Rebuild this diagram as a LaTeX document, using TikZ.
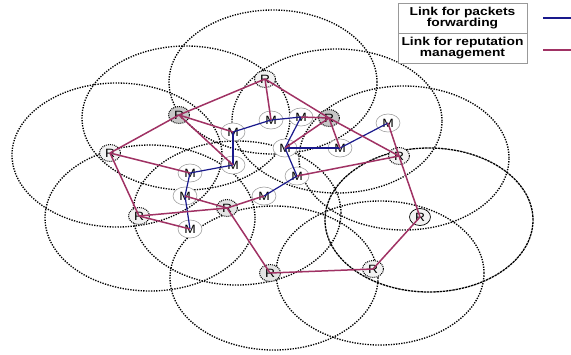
\documentclass[tikz,border=0pt]{standalone}
\usepackage{fontspec}
\usetikzlibrary{shapes.geometric}
\newfontfamily\labelfont[FakeStretch=1.15]{Liberation Sans}
\newfontfamily\legendfont[FakeStretch=1.2]{Liberation Sans}
\definecolor{fwdblue}{RGB}{25,25,140}
\definecolor{repred}{RGB}{160,50,100}

\begin{document}
\begin{tikzpicture}[x=1pt,y=-1pt,
  zone/.style={draw=black, line width=1.35pt, dash pattern=on 1.3pt off 1.3pt},
  zonedense/.style={draw=black, line width=1.3pt, dash pattern=on 2.4pt off 0.8pt},
  mnode/.style={ellipse, draw=gray!75, line width=0.6pt, fill=white,
    minimum width=24pt, minimum height=18pt, inner sep=0pt,
    font=\labelfont\fontsize{12}{12}\selectfont},
  rnode/.style={ellipse, draw=black, line width=1pt, dash pattern=on 1pt off 1pt,
    fill=gray!10, minimum width=21pt, minimum height=17pt, inner sep=0pt,
    font=\labelfont\fontsize{12}{12}\selectfont},
  rdark/.style={rnode, fill=gray!45},
  rmid/.style={rnode, fill=gray!22},
  rsolid/.style={rnode, solid, line width=0.7pt},
  fwd/.style={draw=fwdblue, line width=1.2pt},
  rep/.style={draw=repred, line width=1.5pt},
  legcell/.style={draw=gray!80, line width=0.6pt, minimum width=129pt, minimum height=30pt,
    inner sep=0pt, align=center, font=\legendfont\bfseries\fontsize{11.5}{11.5}\selectfont}
]
\useasboundingbox (0,0) rectangle (571,354);

% coverage zones of the reputation nodes
\draw[zone] (273,82)  ellipse [x radius=104pt, y radius=72pt];
\draw[zone] (186,118) ellipse [x radius=104pt, y radius=72pt];
\draw[zone] (117,155) ellipse [x radius=105pt, y radius=72pt];
\draw[zone] (337,121) ellipse [x radius=105pt, y radius=72pt];
\draw[zone] (404,158) ellipse [x radius=105pt, y radius=72pt];
\draw[zone] (150,218) ellipse [x radius=105pt, y radius=73pt];
\draw[zone] (237,213) ellipse [x radius=104pt, y radius=72pt];
\draw[zonedense] (429,220) ellipse [x radius=104pt, y radius=72pt];
\draw[zone] (274,278) ellipse [x radius=104pt, y radius=72pt];
\draw[zone] (380,273) ellipse [x radius=104pt, y radius=72pt];

% reputation nodes
\node[rnode] (R1)  at (265,79)  {R};
\node[rdark] (R2)  at (179,115) {R};
\node[rnode] (R3)  at (110,153) {R};
\node[rdark] (R4)  at (329,118) {R};
\node[rnode] (R5)  at (399,156) {R};
\node[rnode] (R6)  at (139,216) {R};
\node[rmid]  (R7)  at (227,208) {R};
\node[rsolid](R8)  at (420,217) {R};
\node[rmid]  (R9)  at (270,273) {R};
\node[rnode] (R10) at (373,269) {R};

% mobile nodes
\node[mnode] (Ma) at (271,120) {M};
\node[mnode] (Mb) at (233,132) {M};
\node[mnode] (Mc) at (233,165) {M};
\node[mnode] (Md) at (190,173) {M};
\node[mnode] (Me) at (285,148) {M};
\node[mnode] (Mf) at (185,196) {M};
\node[mnode] (Mg) at (264,196) {M};
\node[mnode] (Mh) at (301,117) {M};
\node[mnode] (Mi) at (388,123) {M};
\node[mnode] (Mj) at (340,148) {M};
\node[mnode] (Mk) at (297,176) {M};
\node[mnode] (Ml) at (190,229) {M};

% packet forwarding links
\draw[fwd] (Mb.center) -- (Ma.center);
\draw[fwd] (Ma.center) -- (Mh.center);
\draw[fwd] (Mb.center) -- (Mc.center);
\draw[fwd] (Md.center) -- (Mc.center);
\draw[fwd] (Md.center) -- (Mf.center);
\draw[fwd] (Mf.center) -- (Ml.center);
\draw[fwd] (Me.center) -- (Mh.center);
\draw[fwd] (Me.center) -- (Mj.center);
\draw[fwd] (Mj.center) -- (Mi.center);
\draw[fwd] (Me.center) -- (Mk.center);
\draw[fwd] (Mk.center) -- (Mg.center);

% reputation management links
\draw[rep] (R1.center) -- (R2.center);
\draw[rep] (R1.center) -- (Ma.center);
\draw[rep] (R1.center) -- (R4.center);
\draw[rep] (R4.center) -- (R5.center);
\draw[rep] (R4.center) -- (Mh.center);
\draw[rep] (R4.center) -- (Me.center);
\draw[rep] (R4.center) -- (Mj.center);
\draw[rep] (R5.center) -- (Mi.center);
\draw[rep] (R5.center) -- (Mk.center);
\draw[rep] (R5.center) -- (R8.center);
\draw[rep] (R8.center) -- (R10.center);
\draw[rep] (R10.center) -- (R9.center);
\draw[rep] (R9.center) -- (R7.center);
\draw[rep] (R7.center) -- (Mg.center);
\draw[rep] (R7.center) -- (Mf.center);
\draw[rep] (R7.center) -- (R6.center);
\draw[rep] (R6.center) -- (Ml.center);
\draw[rep] (R6.center) -- (R3.center);
\draw[rep] (R3.center) -- (Md.center);
\draw[rep] (R3.center) -- (R2.center);
\draw[rep] (R2.center) -- (Mb.center);
\draw[rep] (R2.center) -- (Mc.center);

% legend
\node[legcell, fill=white] (leg1) at (462.5,18) {Link for packets\\forwarding};
\node[legcell, fill=white] (leg2) at (462.5,48) {Link for reputation\\management};
\coordinate (fwdA) at (543,18);
\coordinate (fwdB) at (571,18);
\coordinate (repA) at (543,50);
\coordinate (repB) at (571,50);
\draw[fwdblue, line width=1.2pt] (fwdA) -- (fwdB);
\draw[repred, line width=1.5pt] (repA) -- (repB);
\end{tikzpicture}
\end{document}
